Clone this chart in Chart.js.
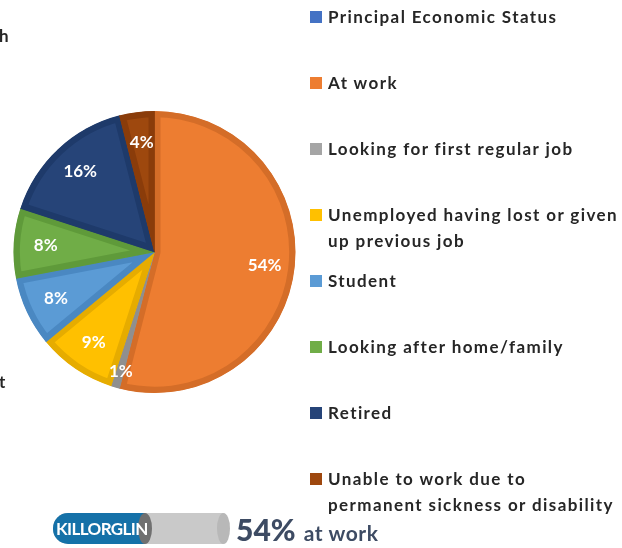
<!DOCTYPE html>
<html>
<head>
<meta charset="utf-8">
<script src="https://cdn.jsdelivr.net/npm/chart.js@4/dist/chart.umd.min.js"></script>
<style>
  html, body { margin: 0; padding: 0; background: #fff; }
  body { width: 622px; height: 548px; position: relative; overflow: hidden;
         font-family: Lato, "Open Sans", sans-serif; color: #262626; }
  #wrap { position: absolute; left: 0; top: 0; width: 622px; height: 548px; }
  .frag { position: absolute; font-weight: 700; font-size: 17px; line-height: 20px; }
  #legend { position: absolute; left: 310px; top: 0; }
  .item { position: absolute; left: 0; white-space: pre; font-weight: 700; font-size: 17px;
          line-height: 26px; letter-spacing: 1.4px; }
  .item i { position: absolute; left: 0; top: 7px; width: 12px; height: 12px; }
  .item span { display: block; margin-left: 18px; }
  #pill { position: absolute; left: 53px; top: 513px; width: 178px; height: 31px; }
  #pill .track { position: absolute; left: 0; top: 0; width: 170px; height: 31px;
                 background: #c9c9c9; border-radius: 15px 0 0 15px; }
  #pill .cap { position: absolute; left: 164px; top: 0; width: 13px; height: 31px;
               background: #b8b8b8; border-radius: 50%; }
  #pill .fill { position: absolute; left: 0; top: 0; width: 92px; height: 31px;
                background: #1571a8; border-radius: 15px 0 0 15px; }
  #pill .end { position: absolute; left: 85px; top: 0; width: 14px; height: 31px;
               background: #707070; border-radius: 50%; }
  #pill .name { position: absolute; left: 3px; top: 5px; color: #fff; font-weight: 700;
                font-size: 17px; line-height: 21px; letter-spacing: -0.6px; }
  #stat { position: absolute; left: 236px; top: 511px; color: #3d4b63; font-weight: 700;
          white-space: nowrap; }
  #stat b { font-size: 30px; }
  #stat em { font-style: normal; font-size: 21px; margin-left: 8px; letter-spacing: 0.6px; }
</style>
</head>
<body>
<div id="wrap"><canvas id="pie" width="622" height="548"></canvas></div>
<div class="frag" style="left:-1px; top:26px;">h</div>
<div class="frag" style="left:-1px; top:372px;">t</div>
<div id="legend"></div>
<div id="pill">
  <div class="track"></div><div class="cap"></div>
  <div class="fill"></div><div class="end"></div>
  <div class="name" id="placeName"></div>
</div>
<div id="stat"></div>
<script>
// Principal economic status, percent of population aged 15+
const legendTitle = 'Principal Economic Status';
const legendTitleColor = '#4472c4';
const categories = [
  'At work',
  'Looking for first regular job',
  'Unemployed having lost or given\nup previous job',
  'Student',
  'Looking after home/family',
  'Retired',
  'Unable to work due to\npermanent sickness or disability'
];
const shares = [54, 1, 9, 8, 8, 16, 4];
const sliceColors = ['#ed7d31', '#a5a5a5', '#ffc000', '#5b9bd5', '#70ad47', '#264478', '#9e480e'];
const edgeColors = ['#d46d28', '#8f8f8f', '#e6ac00', '#4a88c2', '#5f9a3a', '#1e3a6a', '#8a3c0a'];
const placeName = 'KILLORGLIN';
const headlineValue = 54;
const headlineText = 'at work';

// legend, one row every 66px
const legend = document.getElementById('legend');
const rows = [{ text: legendTitle, color: legendTitleColor }]
  .concat(categories.map((c, i) => ({ text: c, color: sliceColors[i] })));
rows.forEach((r, i) => {
  const el = document.createElement('div');
  el.className = 'item';
  el.style.top = (4 + i * 66) + 'px';
  el.innerHTML = '<i style="background:' + r.color + '"></i><span></span>';
  el.querySelector('span').textContent = r.text;
  legend.appendChild(el);
});

document.getElementById('placeName').textContent = placeName;
document.getElementById('stat').innerHTML = '<b>' + headlineValue + '%</b><em>' + headlineText + '</em>';

// percent labels inside each slice
const sliceLabels = {
  id: 'sliceLabels',
  afterDatasetsDraw(chart) {
    const ctx = chart.ctx;
    const meta = chart.getDatasetMeta(0);
    ctx.save();
    ctx.fillStyle = '#ffffff';
    ctx.font = '700 17px Lato, "Open Sans", sans-serif';
    ctx.textAlign = 'center';
    ctx.textBaseline = 'middle';
    meta.data.forEach((arc, i) => {
      const p = arc.getProps(['x', 'y', 'startAngle', 'endAngle', 'outerRadius'], true);
      const mid = (p.startAngle + p.endAngle) / 2;
      const k = shares[i] < 3 ? 0.88 : 0.78;
      const r = p.outerRadius * k;
      ctx.fillText(shares[i] + '%', p.x + Math.cos(mid) * r + 1, p.y + Math.sin(mid) * r);
    });
    ctx.restore();
  }
};

new Chart(document.getElementById('pie'), {
  type: 'pie',
  data: {
    labels: categories,
    datasets: [{
      data: shares,
      backgroundColor: sliceColors,
      borderColor: edgeColors,
      borderWidth: 6,
      borderAlign: 'inner',
      hoverOffset: 0,
      offset: 0
    }]
  },
  options: {
    responsive: false,
    animation: false,
    layout: { padding: { left: 13, top: 111, right: 326, bottom: 155 } },
    plugins: { legend: { display: false }, tooltip: { enabled: false } }
  },
  plugins: [sliceLabels]
});
</script>
</body>
</html>
